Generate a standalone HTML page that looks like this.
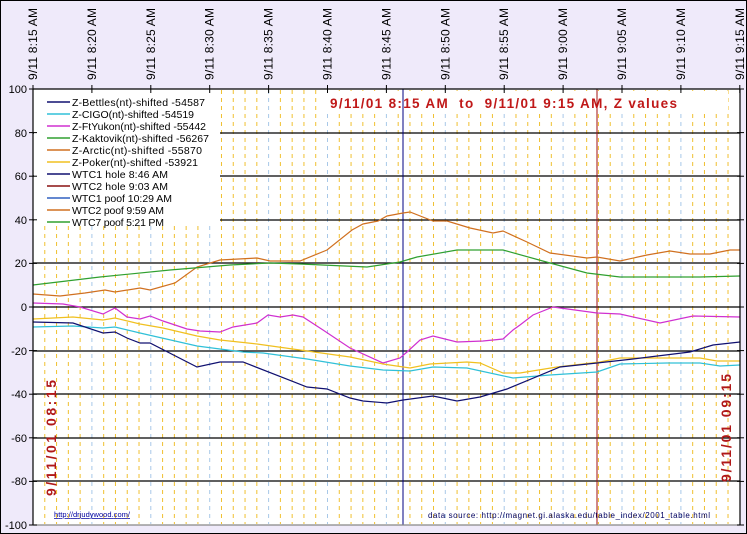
<!DOCTYPE html>
<html><head><meta charset="utf-8"><style>
html,body{margin:0;padding:0;background:#efeafa;}
svg{display:block;font-family:"Liberation Sans",sans-serif;}
</style></head><body>
<svg width="747" height="534" viewBox="0 0 747 534" xmlns="http://www.w3.org/2000/svg">
<rect x="0.5" y="0.5" width="746" height="533" fill="#efeafa" stroke="#000"/>
<rect x="33" y="89" width="707" height="436" fill="#fff"/>
<g id="vgrid" stroke-width="1" stroke-dasharray="4,4"></g>
<g stroke="#000" stroke-width="1.2">
<line x1="33" y1="133" x2="740" y2="133"/><line x1="33" y1="176" x2="740" y2="176"/>
<line x1="33" y1="220" x2="740" y2="220"/><line x1="33" y1="263" x2="740" y2="263"/>
<line x1="33" y1="307" x2="740" y2="307"/><line x1="33" y1="351" x2="740" y2="351"/>
<line x1="33" y1="394" x2="740" y2="394"/><line x1="33" y1="438" x2="740" y2="438"/>
<line x1="33" y1="481" x2="740" y2="481"/>
</g>
<rect x="34" y="90" width="186" height="136" fill="#fff"/>
<rect x="322" y="91" width="406" height="21" fill="#fff"/>
<line x1="403" y1="89" x2="403" y2="525" stroke="#000080" stroke-width="1"/>
<line x1="597" y1="89" x2="597" y2="525" stroke="#a01010" stroke-width="1"/>
<g fill="none" stroke-width="1.2">
<polyline stroke="#d07020" points="33,294 60,296 85,293 105,290 115,292 140,288 150,290 175,283 197,267 220,260 257,258 270,261 300,261 327,250 352,230 363,224 378,221 387,216 403,213 410,212 433,221 447,221 470,228 493,233 503,231 527,242 550,253 587,258 597,257 620,261 647,255 670,251 690,254 710,254 730,250 740,250"/>
<polyline stroke="#30a030" points="33,285 100,277 170,270 230,265 270,263 300,264 367,267 400,262 417,257 457,250 503,250 550,263 587,273 620,277 700,277 740,276"/>
<polyline stroke="#d030d0" points="33,303 63,304 80,307 103,314 115,308 127,317 140,319 150,316 163,321 187,329 200,331 220,332 233,327 257,323 268,315 280,317 293,315 303,317 323,330 350,348 383,363 400,358 407,352 420,340 433,336 457,342 483,341 503,339 513,330 520,325 533,315 553,307 597,313 620,314 660,323 693,316 740,317"/>
<polyline stroke="#f0c020" points="33,319 73,317 103,320 115,318 140,324 163,328 197,336 220,340 257,344 307,351 350,357 383,364 410,368 430,364 467,362 480,363 503,373 520,373 557,367 600,362 620,358 667,358 700,358 717,361 740,361"/>
<polyline stroke="#30c0d8" points="33,327 73,326 103,328 115,327 140,333 197,346 243,352 263,353 307,359 350,366 383,370 410,371 433,367 467,368 513,378 550,375 597,372 620,364 667,363 700,363 720,366 740,365"/>
<polyline stroke="#101070" points="33,322 73,323 103,333 115,332 127,338 140,343 150,343 197,367 220,362 243,362 307,387 327,389 350,398 363,401 387,403 403,400 433,396 457,401 480,397 507,389 560,367 597,363 633,359 690,352 713,345 740,342"/>
</g>
<g stroke="#000" stroke-width="1.2">
<line x1="33" y1="89" x2="33" y2="525"/><line x1="33" y1="525" x2="740" y2="525" stroke="#888"/>
<line x1="33" y1="89" x2="740" y2="89"/><line x1="740" y1="89" x2="740" y2="525"/>
</g>
<g id="ticks" stroke="#000" stroke-width="1"></g>
<g font-size="11" text-anchor="end" fill="#000">
<text x="27" y="93">100</text><text x="27" y="137">80</text><text x="27" y="180">60</text>
<text x="27" y="224">40</text><text x="27" y="267">20</text><text x="27" y="311">0</text>
<text x="27" y="355">-20</text><text x="27" y="398">-40</text><text x="27" y="442">-60</text>
<text x="27" y="485">-80</text><text x="27" y="529">-100</text>
</g>
<g id="toplab" font-size="12" fill="#000"></g>
<g font-size="10.5" fill="#000">
<g stroke-width="1.5">
<line x1="47" y1="102" x2="70" y2="102" stroke="#101070"/>
<line x1="47" y1="114" x2="70" y2="114" stroke="#30c0d8"/>
<line x1="47" y1="126" x2="70" y2="126" stroke="#d030d0"/>
<line x1="47" y1="138" x2="70" y2="138" stroke="#30a030"/>
<line x1="47" y1="150" x2="70" y2="150" stroke="#d07020"/>
<line x1="47" y1="162" x2="70" y2="162" stroke="#f0c020"/>
<line x1="47" y1="174" x2="70" y2="174" stroke="#101070"/>
<line x1="47" y1="186" x2="70" y2="186" stroke="#8a1010"/>
<line x1="47" y1="198" x2="70" y2="198" stroke="#3060c0"/>
<line x1="47" y1="210" x2="70" y2="210" stroke="#d07020"/>
<line x1="47" y1="222" x2="70" y2="222" stroke="#30a030"/>
</g>
<text x="72" y="106" textLength="133">Z-Bettles(nt)-shifted -54587</text>
<text x="72" y="118" textLength="122">Z-CIGO(nt)-shifted -54519</text>
<text x="72" y="130" textLength="134">Z-FtYukon(nt)-shifted -55442</text>
<text x="72" y="142" textLength="137">Z-Kaktovik(nt)-shifted -56267</text>
<text x="72" y="154" textLength="130">Z-Arctic(nt)-shifted -55870</text>
<text x="72" y="166" textLength="126">Z-Poker(nt)-shifted -53921</text>
<text x="72" y="178" textLength="96">WTC1 hole 8:46 AM</text>
<text x="72" y="190" textLength="96">WTC2 hole 9:03 AM</text>
<text x="72" y="202" textLength="100">WTC1 poof 10:29 AM</text>
<text x="72" y="214" textLength="92">WTC2 poof 9:59 AM</text>
<text x="72" y="226" textLength="92">WTC7 poof 5:21 PM</text>
</g>
<text x="330" y="108" font-size="13.5" font-weight="bold" fill="#c01818" textLength="347" lengthAdjust="spacing" xml:space="preserve">9/11/01 8:15 AM  to  9/11/01 9:15 AM, Z values</text>
<text transform="translate(56,496) rotate(-90)" font-size="14" font-weight="bold" fill="#b01818" textLength="116">9/11/01 08:15</text>
<text transform="translate(731,482) rotate(-90)" font-size="14" font-weight="bold" fill="#b01818" textLength="108">9/11/01 09:15</text>
<text x="54" y="517" font-size="7.5" fill="#0000a0" text-decoration="underline" textLength="76">http://drjudywood.com/</text>
<text x="428" y="518" font-size="8" fill="#000060" textLength="282">data source:  http://magnet.gi.alaska.edu/table_index/2001_table.html</text>
<script>
var ns="http://www.w3.org/2000/svg",vg=document.getElementById("vgrid"),tk=document.getElementById("ticks"),tl=document.getElementById("toplab");
for(var m=1;m<60;m++){var x=33+m*11.78;var l=document.createElementNS(ns,"line");l.setAttribute("x1",x);l.setAttribute("x2",x);l.setAttribute("y1",90);l.setAttribute("y2",524);l.setAttribute("stroke",m%5==0?"#a8c8e8":"#f0c030");vg.appendChild(l);}
for(var k=0;k<=12;k++){var x=33+k*58.9;var l=document.createElementNS(ns,"line");l.setAttribute("x1",x);l.setAttribute("x2",x);l.setAttribute("y1",85);l.setAttribute("y2",93);tk.appendChild(l);
var mm=15+k*5,h=8;if(mm>=60){mm-=60;h=9;}var s="9/11 "+h+":"+(mm<10?"0"+mm:mm)+" AM";var t=document.createElementNS(ns,"text");t.setAttribute("transform","translate("+(x+4)+",80) rotate(-90)");t.setAttribute("textLength","72");t.textContent=s;tl.appendChild(t);}
for(var v=0;v<=10;v++){var y=89+v*43.6;var l=document.createElementNS(ns,"line");l.setAttribute("x1",29);l.setAttribute("x2",37);l.setAttribute("y1",y);l.setAttribute("y2",y);tk.appendChild(l);var r=document.createElementNS(ns,"line");r.setAttribute("x1",737);r.setAttribute("x2",744);r.setAttribute("y1",y);r.setAttribute("y2",y);tk.appendChild(r);}
</script>
</svg>
</body></html>
